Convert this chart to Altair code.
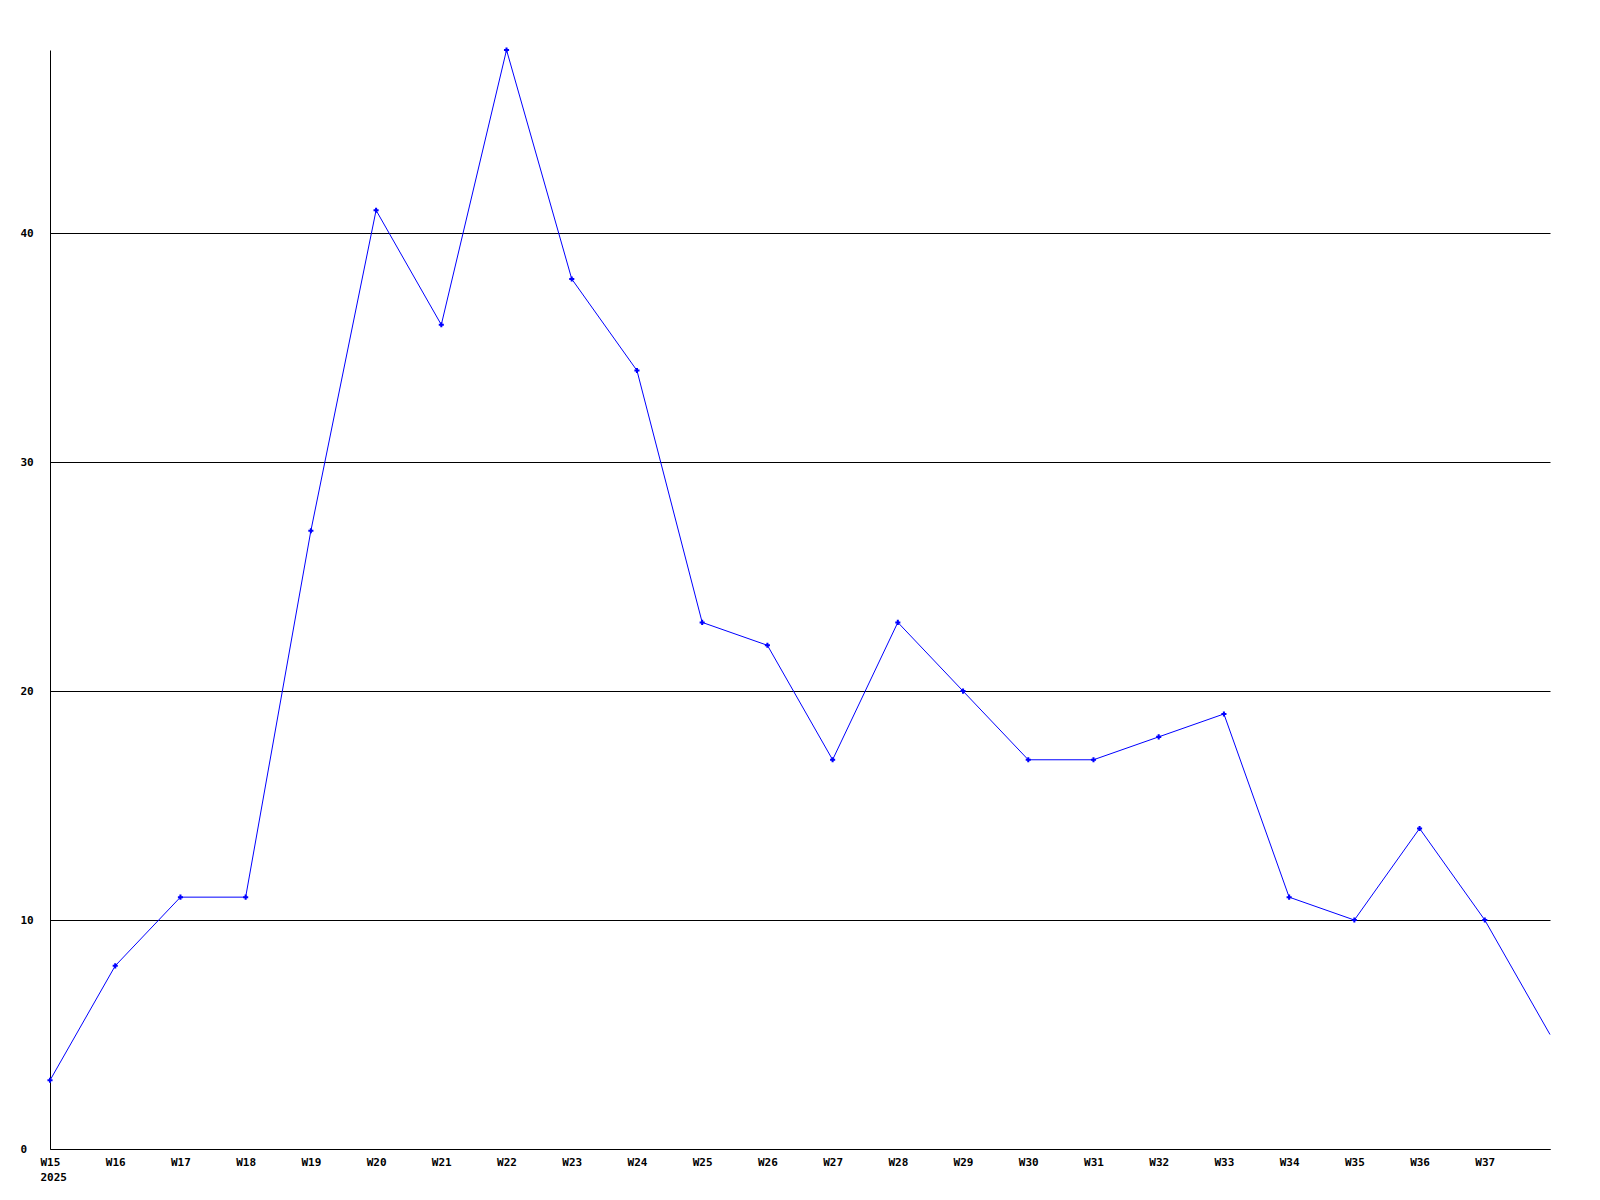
import altair as alt
import pandas as pd

weeks = list(range(15, 39))
values = [3, 8, 11, 11, 27, 41, 36, 48, 38, 34, 23, 22, 17, 23, 20, 17, 17, 18, 19, 11, 10, 14, 10, 5]
x_ticks = list(range(15, 38))
y_ticks = [0, 10, 20, 30, 40]

df = pd.DataFrame({"week": weeks, "value": values})

FONT = "DejaVu Sans Mono"

x = alt.X(
    "week:Q",
    scale=alt.Scale(domain=[15, 38], nice=False, zero=False),
    axis=alt.Axis(
        values=x_ticks,
        labelExpr="datum.value == 15 ? ['W15', '2025'] : 'W' + datum.value",
        title=None,
        grid=False,
        ticks=False,
        domainColor="black",
        domainWidth=1,
        labelFont=FONT,
        labelFontSize=11,
        labelFontWeight="bold",
        labelColor="black",
        labelPadding=7,
        labelLineHeight=15,
        labelBaseline="top",
        labelAlign=alt.ExprRef(expr="datum.value == 15 ? 'left' : 'center'"),
        labelOffset=alt.ExprRef(expr="datum.value == 15 ? -10 : 0"),
        labelFlush=False,
        labelOverlap=False,
    ),
)
y = alt.Y(
    "value:Q",
    scale=alt.Scale(domain=[0, 48], nice=False),
    axis=alt.Axis(
        values=y_ticks,
        title=None,
        grid=True,
        gridColor="black",
        gridWidth=1,
        gridOpacity=1,
        ticks=False,
        domainColor="black",
        domainWidth=1,
        labelFont=FONT,
        labelFontSize=11,
        labelFontWeight="bold",
        labelColor="black",
        labelAlign="left",
        labelPadding=30,
        labelFlush=False,
        labelOverlap=False,
    ),
)

line = alt.Chart(df).mark_line(color="#0000ff", strokeWidth=1).encode(x=x, y=y)
points = (
    alt.Chart(df)
    .transform_filter("datum.week < 38")
    .mark_point(shape="cross", filled=True, size=26, color="#0000ff", opacity=1)
    .encode(x=x, y=y)
)

chart = (
    alt.layer(line, points)
    .properties(
        width=1500,
        height=1099,
        autosize=alt.AutoSizeParams(type="none"),
        padding={"left": 42, "top": 42, "right": 42, "bottom": 50},
        view=alt.ViewBackground(strokeOpacity=0, strokeWidth=0),
    )
    .configure_view(strokeOpacity=0, strokeWidth=0)
    .configure(background="white")
)

chart.save("out.html", embed_options={"renderer": "svg", "actions": False})
